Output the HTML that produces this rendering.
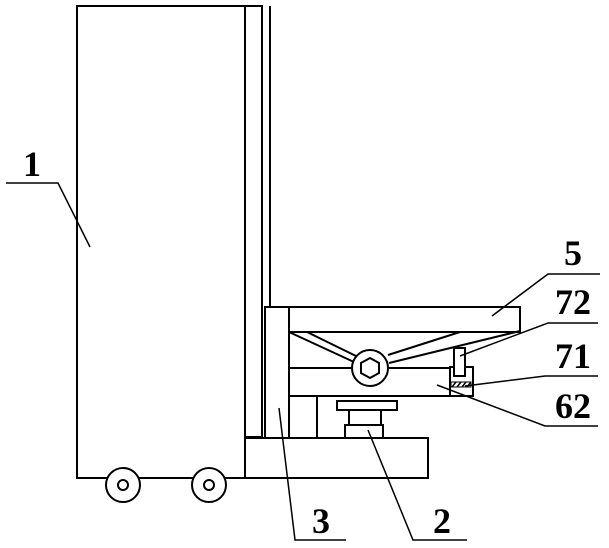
<!DOCTYPE html>
<html><head><style>
html,body{margin:0;padding:0;background:#fff;width:609px;height:548px;overflow:hidden}
svg{display:block}
text{font-family:"Liberation Serif",serif;font-weight:bold;font-size:36px;fill:#000}
</style></head><body>
<svg width="609" height="548" viewBox="0 0 609 548" xmlns="http://www.w3.org/2000/svg">
<g fill="none" stroke="#000" stroke-width="2">
<rect x="77" y="6" width="168" height="472"/>
<rect x="245" y="6" width="17" height="431"/>
<line x1="270" y1="6" x2="270" y2="437"/>
<polyline points="245,438 428,438 428,478 245,478"/>
<circle cx="123" cy="485" r="17" fill="#fff"/>
<circle cx="123" cy="485" r="5"/>
<circle cx="209" cy="485" r="17" fill="#fff"/>
<circle cx="209" cy="485" r="5"/>
<rect x="265" y="307" width="24" height="131" fill="#fff"/>
<line x1="317" y1="396" x2="317" y2="438"/>
<rect x="289" y="307" width="231" height="25"/>
<polyline points="289,332 289,396 473,396"/>
<line x1="289" y1="368" x2="450" y2="368"/>
<line x1="289" y1="332" x2="354" y2="362"/>
<line x1="307" y1="332" x2="356" y2="356"/>
<line x1="460" y1="332" x2="388" y2="355"/>
<line x1="520" y1="331" x2="389" y2="363"/>
<circle cx="370" cy="368" r="18" fill="#fff"/>
<polygon points="370,358 379,363 379,373 370,378 361,373 361,363"/>
<rect x="337" y="401" width="60" height="9"/>
<rect x="349" y="410" width="32" height="15"/>
<rect x="345" y="425" width="38" height="13"/>
<rect x="450" y="367" width="23" height="29" fill="#fff"/>
<rect x="454" y="348" width="11" height="28" fill="#fff"/>
<rect x="451" y="382" width="20" height="5" stroke-width="1"/>
<g stroke-width="1.5"><line x1="452" y1="387" x2="456" y2="382"/><line x1="457" y1="387" x2="461" y2="382"/><line x1="462" y1="387" x2="466" y2="382"/><line x1="467" y1="387" x2="471" y2="382"/></g>
<polyline points="6,183 58,183 90,247" stroke-width="1.5"/>
<polyline points="279,408 295,540 346,540" stroke-width="1.5"/>
<polyline points="368,430 413,540 467,540" stroke-width="1.5"/>
<polyline points="492,316 548,274 600,274" stroke-width="1.5"/>
<polyline points="460,356 548,323 598,323" stroke-width="1.5"/>
<polyline points="465,386 545,376 598,376" stroke-width="1.5"/>
<polyline points="437,385 545,426 598,426" stroke-width="1.5"/>
</g>
<text x="23" y="176">1</text>
<text x="564" y="265">5</text>
<text x="555" y="314">72</text>
<text x="555" y="368">71</text>
<text x="555" y="418">62</text>
<text x="312" y="533">3</text>
<text x="433" y="533">2</text>
</svg>
</body></html>
